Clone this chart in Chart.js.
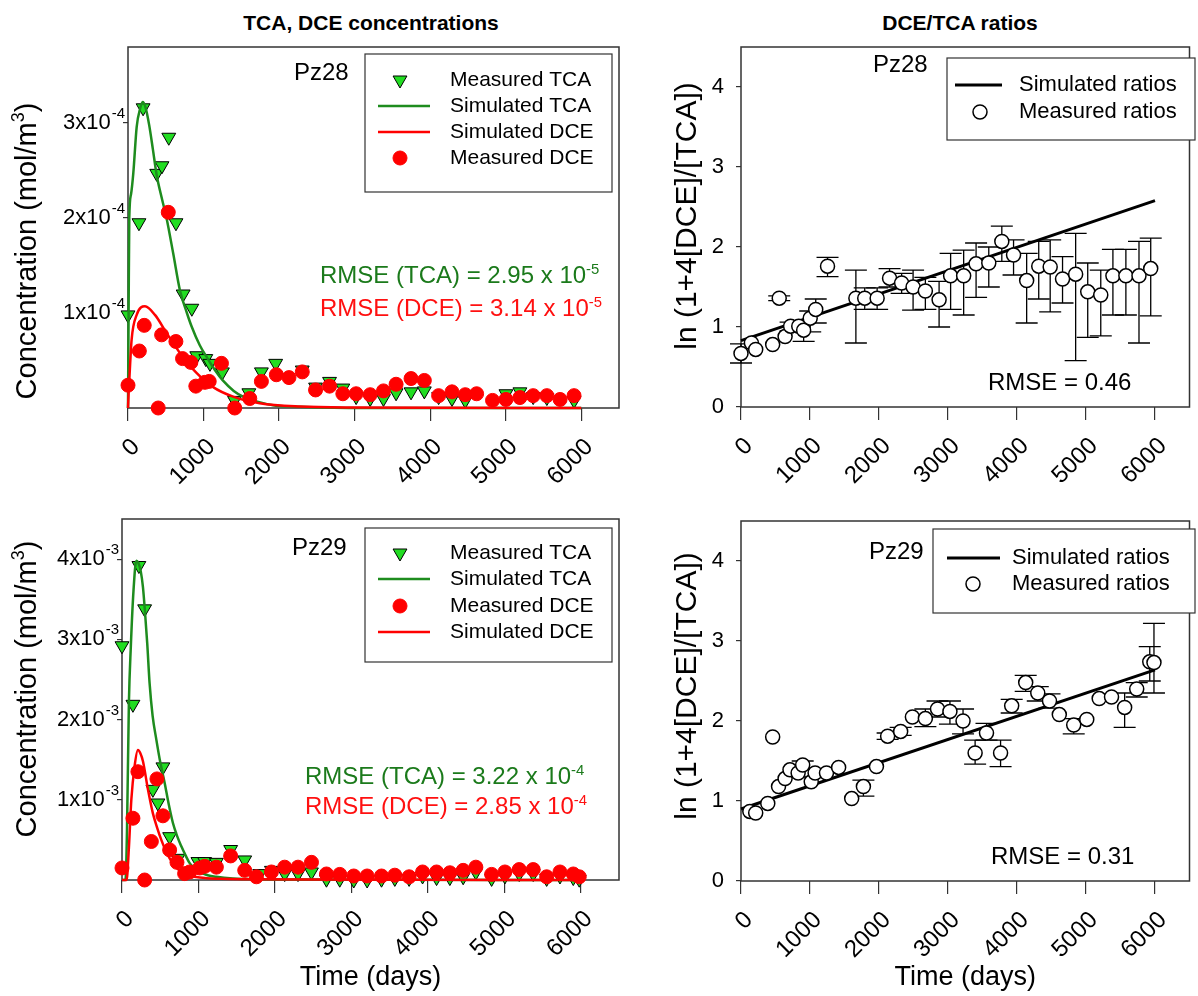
<!DOCTYPE html>
<html>
<head>
<meta charset="utf-8">
<script src="https://cdn.jsdelivr.net/npm/chart.js@4.4.1/dist/chart.umd.min.js"></script>
<style>
  body { margin: 0; background: #fff; width: 1198px; height: 996px; position: relative; overflow: hidden;
         font-family: "Liberation Sans", Arial, sans-serif; }
  canvas { position: absolute; }
  .t { position: absolute; white-space: nowrap; line-height: 1; color: #000; font-size: 24px; }
  .t sup { font-size: 0.62em; vertical-align: 0.62em; line-height: 0; }
  .head { font-weight: bold; font-size: 21px; transform: translateX(-50%); }
  .ytitle { transform: translate(-50%, -50%) rotate(-90deg); }
  .green { color: #1b7a1b; }
  .red { color: #ff1010; }
</style>
</head>
<body>
<div class="t head" style="left:371px;top:12px">TCA, DCE concentrations</div>
<div class="t head" style="left:960px;top:12px">DCE/TCA ratios</div>

<canvas id="conc28" width="640" height="470" style="left:0;top:30px"></canvas>
<canvas id="ratio28" width="548" height="470" style="left:650px;top:30px"></canvas>
<canvas id="conc29" width="640" height="491" style="left:0;top:505px"></canvas>
<canvas id="ratio29" width="548" height="491" style="left:650px;top:505px"></canvas>

<div class="t ytitle" style="left:26px;top:251px;font-size:29px">Concentration (mol/m<sup>3</sup>)</div>
<div class="t ytitle" style="left:26px;top:689px;font-size:29px">Concentration (mol/m<sup>3</sup>)</div>
<div class="t ytitle" style="left:686px;top:216px;font-size:30px">ln (1+4[DCE]/[TCA])</div>
<div class="t ytitle" style="left:686px;top:686px;font-size:30px">ln (1+4[DCE]/[TCA])</div>

<div class="t" style="left:294px;top:60px">Pz28</div>
<div class="t green" style="left:320px;top:263px">RMSE (TCA) = 2.95 x 10<sup>-5</sup></div>
<div class="t red" style="left:320px;top:296px">RMSE (DCE) = 3.14 x 10<sup>-5</sup></div>

<div class="t" style="left:292px;top:535px">Pz29</div>
<div class="t green" style="left:305px;top:764px">RMSE (TCA) = 3.22 x 10<sup>-4</sup></div>
<div class="t red" style="left:305px;top:794px">RMSE (DCE) = 2.85 x 10<sup>-4</sup></div>

<div class="t" style="left:873px;top:52px">Pz28</div>
<div class="t" style="left:988px;top:370px">RMSE = 0.46</div>

<div class="t" style="left:869px;top:539px">Pz29</div>
<div class="t" style="left:991px;top:844px">RMSE = 0.31</div>

<script>
const FONT = '"Liberation Sans", Arial, sans-serif';
const TRI_GREEN = '#22dd22';
const LINE_GREEN = '#1e8c1e';
const RED = '#ff0000';

// x axis (days), shared by all panels
const dayTicks = [0, 1000, 2000, 3000, 4000, 5000, 6000];

// ---- Pz28 concentrations (mol/m3)
const tcaDays28 = [0, 145, 200, 380, 450, 540, 635, 730, 845, 910, 1030, 1085, 1250, 1410, 1600, 1766, 1955, 2307, 2483, 2668,
  2844, 3020, 3206, 3382, 3549, 3747, 3923, 4112, 4289, 4465, 5003, 5188, 5364, 5545, 5905];
const tcaMeas28 = [0.98e-4, 1.95e-4, 3.16e-4, 2.47e-4, 2.55e-4, 2.85e-4, 1.95e-4, 1.20e-4, 1.05e-4, 0.55e-4,
  0.52e-4, 0.47e-4, 0.38e-4, 0.08e-4, 0.16e-4, 0.38e-4, 0.47e-4, 0.40e-4, 0.22e-4, 0.28e-4,
  0.21e-4, 0.12e-4, 0.10e-4, 0.10e-4, 0.16e-4, 0.17e-4, 0.18e-4, 0.12e-4, 0.10e-4, 0.08e-4,
  0.15e-4, 0.17e-4, 0.12e-4, 0.11e-4, 0.08e-4];
const dceDays28 = [0, 150, 215, 400, 445, 533, 634, 722, 832, 898, 1017, 1075, 1237, 1413, 1612, 1766, 1964, 2131, 2307, 2483,
  2668, 2844, 3020, 3206, 3382, 3549, 3747, 3923, 4112, 4289, 4465, 4615, 4826, 5003, 5188, 5364, 5545, 5720, 5905];
const dceMeas28 = [0.24e-4, 0.60e-4, 0.87e-4, 0, 0.77e-4, 2.06e-4, 0.70e-4, 0.52e-4, 0.48e-4, 0.23e-4,
  0.27e-4, 0.28e-4, 0.47e-4, 0, 0.10e-4, 0.28e-4, 0.35e-4, 0.32e-4, 0.38e-4, 0.19e-4,
  0.23e-4, 0.15e-4, 0.15e-4, 0.14e-4, 0.18e-4, 0.25e-4, 0.31e-4, 0.29e-4, 0.13e-4, 0.17e-4,
  0.14e-4, 0.15e-4, 0.08e-4, 0.09e-4, 0.11e-4, 0.13e-4, 0.13e-4, 0.09e-4, 0.13e-4];
const simTcaDays28 = [0, 8, 17, 40, 70, 115, 160, 194, 230, 280, 330, 380, 450, 510, 600, 687, 780, 841, 950, 1039,
  1150, 1255, 1400, 1523, 1700, 1920, 2200, 2600, 3000, 6000];
const simTca28 = [0, 1.0e-4, 2.0e-4, 2.25e-4, 2.47e-4, 2.96e-4, 3.15e-4, 3.22e-4, 3.17e-4, 2.98e-4,
  2.72e-4, 2.45e-4, 2.2e-4, 2.0e-4, 1.62e-4, 1.24e-4, 1.0e-4, 0.86e-4, 0.66e-4, 0.54e-4,
  0.40e-4, 0.29e-4, 0.18e-4, 0.12e-4, 0.07e-4, 0.03e-4, 0.015e-4, 0.005e-4, 0, 0];
const simDceDays28 = [0, 8, 17, 48, 115, 225, 357, 510, 687, 907, 1127, 1391, 1744, 2272, 3000, 6000];
const simDce28 = [0, 0.15e-4, 0.29e-4, 0.72e-4, 0.98e-4, 1.07e-4, 0.98e-4, 0.79e-4, 0.58e-4, 0.37e-4,
  0.22e-4, 0.12e-4, 0.05e-4, 0.015e-4, 0.005e-4, 0];
const concTicks28 = [1e-4, 2e-4, 3e-4];
const concBase28 = ['1x10', '2x10', '3x10'];
const concExp28 = ['-4', '-4', '-4'];

// ---- Pz29 concentrations (mol/m3)
const tcaDays29 = [0, 143, 221, 296, 404, 470, 535, 623, 732, 993, 1081, 1234, 1421, 1605, 1801, 1954, 2128, 2302, 2478, 2674,
  2848, 3031, 3206, 3394, 3568, 3755, 3931, 4114, 4288, 4462, 4628, 4834, 5008, 5195, 5378, 5554, 5728, 5902, 5980];
const tcaMeas29 = [2.92e-3, 2.19e-3, 3.92e-3, 3.38e-3, 1.13e-3, 0.96e-3, 1.41e-3, 0.54e-3, 0.27e-3, 0.23e-3,
  0.23e-3, 0.22e-3, 0.38e-3, 0.25e-3, 0.08e-3, 0.12e-3, 0.08e-3, 0.08e-3, 0.10e-3, 0.01e-3,
  0.01e-3, 0, 0, 0.01e-3, 0.02e-3, 0.02e-3, 0.05e-3, 0.03e-3, 0.03e-3, 0.04e-3,
  0.10e-3, 0.02e-3, 0.05e-3, 0.08e-3, 0.08e-3, 0.02e-3, 0.05e-3, 0.03e-3, 0.01e-3];
const dceDays29 = [0, 143, 208, 296, 384, 457, 535, 623, 719, 819, 885, 1016, 1081, 1234, 1421, 1605, 1758, 1954, 2128, 2302,
  2478, 2674, 2848, 3031, 3206, 3394, 3568, 3755, 3931, 4114, 4288, 4462, 4628, 4834, 5008, 5195, 5378, 5554, 5728, 5902, 5980];
const dceMeas29 = [0.15e-3, 0.77e-3, 1.35e-3, 0, 0.48e-3, 1.26e-3, 0.80e-3, 0.375e-3, 0.22e-3, 0.08e-3,
  0.10e-3, 0.15e-3, 0.17e-3, 0.16e-3, 0.30e-3, 0.12e-3, 0.04e-3, 0.10e-3, 0.16e-3, 0.16e-3,
  0.22e-3, 0.075e-3, 0.07e-3, 0.05e-3, 0.05e-3, 0.05e-3, 0.06e-3, 0.04e-3, 0.10e-3, 0.10e-3,
  0.09e-3, 0.12e-3, 0.16e-3, 0.07e-3, 0.10e-3, 0.13e-3, 0.13e-3, 0.04e-3, 0.10e-3, 0.075e-3, 0.04e-3];
const simTcaDays29 = [0, 45, 65, 90, 115, 150, 187, 215, 245, 274, 300, 330, 361, 400, 449, 500, 558, 610, 666, 720,
  776, 830, 885, 950, 1016, 1120, 1234, 1450, 1800, 2500, 6000];
const simTca29 = [0, 0, 0.6e-3, 2.2e-3, 2.9e-3, 3.6e-3, 3.98e-3, 3.95e-3, 3.85e-3, 3.65e-3,
  3.35e-3, 2.95e-3, 2.45e-3, 2.05e-3, 1.75e-3, 1.47e-3, 1.21e-3, 0.95e-3, 0.71e-3, 0.55e-3,
  0.42e-3, 0.31e-3, 0.21e-3, 0.15e-3, 0.10e-3, 0.06e-3, 0.04e-3, 0.02e-3, 0.01e-3, 0.005e-3, 0];
const simDceDays29 = [0, 60, 90, 122, 165, 208, 240, 274, 339, 404, 460, 514, 570, 623, 700, 776, 880, 1016, 1300, 1700, 2500, 6000];
const simDce29 = [0, 0, 0.4e-3, 1.0e-3, 1.42e-3, 1.62e-3, 1.58e-3, 1.48e-3, 1.13e-3, 0.83e-3,
  0.65e-3, 0.50e-3, 0.37e-3, 0.27e-3, 0.17e-3, 0.10e-3, 0.06e-3, 0.03e-3, 0.015e-3, 0.01e-3, 0.005e-3, 0];
const concTicks29 = [1e-3, 2e-3, 3e-3, 4e-3];
const concBase29 = ['1x10', '2x10', '3x10', '4x10'];
const concExp29 = ['-3', '-3', '-3', '-3'];

// ---- ratios ln(1+4[DCE]/[TCA])
const ratioTicks = [0, 1, 2, 3, 4];
const ratioLabels = ['0', '1', '2', '3', '4'];

const ratioDays28 = [0, 151, 213, 459, 554, 639, 719, 837, 908, 1003, 1083, 1254, 1665, 1793, 1973, 2153, 2328, 2494, 2672, 2871,
  3038, 3227, 3407, 3591, 3780, 3950, 4140, 4315, 4481, 4660, 4850, 5025, 5214, 5390, 5578, 5768, 5938];
const ratio28 = [0.67, 0.80, 0.72, 0.78, 1.36, 0.88, 1.01, 1.01, 0.96, 1.11, 1.22, 1.76, 1.36, 1.36, 1.36, 1.61, 1.55, 1.50, 1.45, 1.34,
  1.64, 1.64, 1.79, 1.80, 2.07, 1.90, 1.58, 1.76, 1.75, 1.60, 1.66, 1.44, 1.40, 1.64, 1.64, 1.64, 1.73];
const ratioLow28 = [0.55, null, null, null, 1.33, null, 0.95, null, 0.82, 0.94, 1.05, 1.63, 0.80, 1.22, 1.22, 1.50, 1.42, 1.21, 1.22, 1.00,
  1.22, 1.15, 1.37, 1.50, 1.82, 1.65, 1.05, 1.35, 1.19, 1.30, 0.58, 0.87, 0.89, 1.15, 1.15, 0.80, 1.14];
const ratioHigh28 = [0.79, null, null, null, 1.39, null, 1.06, null, 1.05, 1.20, 1.35, 1.87, 1.71, 1.49, 1.49, 1.73, 1.67, 1.71, 1.62, 1.57,
  1.92, 1.96, 2.05, 2.00, 2.26, 2.09, 1.92, 2.07, 2.09, 1.88, 2.17, 1.80, 1.71, 1.97, 1.97, 2.07, 2.11];
const simRatioDays28 = [0, 6000];
const simRatio28 = [0.83, 2.58];

const ratioDays29 = [128, 213, 388, 459, 544, 639, 710, 828, 894, 1018, 1074, 1239, 1415, 1604, 1774, 1963, 2125, 2314, 2484, 2672,
  2848, 3028, 3218, 3393, 3558, 3762, 3923, 4126, 4301, 4471, 4613, 4822, 5011, 5191, 5370, 5560, 5735, 5924, 5985];
const ratio29 = [0.87, 0.85, 0.97, 1.80, 1.18, 1.28, 1.39, 1.35, 1.45, 1.24, 1.35, 1.35, 1.42, 1.03, 1.18, 1.43, 1.81, 1.87, 2.05, 2.03,
  2.15, 2.12, 2.00, 1.60, 1.85, 1.60, 2.19, 2.48, 2.35, 2.25, 2.08, 1.95, 2.02, 2.28, 2.30, 2.17, 2.40, 2.74, 2.73];
const ratioLow29 = [null, null, null, null, null, null, null, 1.30, 1.40, null, null, null, null, null, 1.06, null, 1.77, 1.82, null, 1.93,
  2.05, 1.96, 1.84, 1.46, 1.76, 1.43, 2.10, 2.37, 2.25, 2.16, null, 1.84, null, null, null, 1.92, 2.30, 2.50, 2.35];
const ratioHigh29 = [null, null, null, null, null, null, null, 1.40, 1.50, null, null, null, null, null, 1.26, null, 1.85, 1.92, null, 2.15,
  2.25, 2.25, 2.15, 1.76, 1.97, 1.76, 2.27, 2.57, 2.43, 2.34, null, 2.03, null, null, null, 2.35, 2.48, 2.93, 3.22];
const simRatioDays29 = [0, 6000];
const simRatio29 = [0.90, 2.64];

function pts(xs, ys, lo, hi) {
  return xs.map((x, i) => {
    const p = { x: x, y: ys[i] };
    if (lo && lo[i] != null) { p.lo = lo[i]; p.hi = hi[i]; }
    return p;
  });
}

function triangles(label, xs, ys) {
  return { label, data: pts(xs, ys), pointStyle: 'triangle', pointRotation: 180, pointRadius: 8,
    pointBackgroundColor: TRI_GREEN, pointBorderColor: '#000', pointBorderWidth: 1, order: 3, clip: false };
}
function dots(label, xs, ys) {
  return { label, data: pts(xs, ys), pointStyle: 'circle', pointRadius: 7,
    pointBackgroundColor: RED, pointBorderColor: RED, pointBorderWidth: 1, order: 0, clip: false };
}
function curve(label, xs, ys, color, width, order) {
  return { label, data: pts(xs, ys), showLine: true, pointRadius: 0, borderColor: color, borderWidth: width,
    cubicInterpolationMode: 'monotone', fill: false, order: order, clip: false };
}
function rings(label, xs, ys, lo, hi) {
  return { label, data: pts(xs, ys, lo, hi), pointStyle: 'circle', pointRadius: 7, errorBars: true,
    pointBackgroundColor: '#fff', pointBorderColor: '#000', pointBorderWidth: 1.5, order: 0, clip: false };
}

// box around plot area
const frame = {
  id: 'frame',
  beforeDatasetsDraw(chart) {
    const a = chart.chartArea, ctx = chart.ctx;
    ctx.save();
    ctx.strokeStyle = '#333';
    ctx.lineWidth = 1.5;
    ctx.strokeRect(a.left, a.top, a.right - a.left, a.bottom - a.top);
    ctx.restore();
  }
};

// vertical error bars with caps, drawn under the markers
const errorBars = {
  id: 'errorBars',
  beforeDatasetsDraw(chart) {
    const ctx = chart.ctx, xs = chart.scales.x, ys = chart.scales.y;
    const cap = 11;
    ctx.save();
    ctx.strokeStyle = '#000';
    ctx.lineWidth = 1.3;
    chart.data.datasets.forEach(ds => {
      if (!ds.errorBars) return;
      ds.data.forEach(p => {
        if (p.lo == null) return;
        const px = xs.getPixelForValue(p.x);
        const yl = ys.getPixelForValue(p.lo);
        const yh = ys.getPixelForValue(p.hi);
        ctx.beginPath();
        ctx.moveTo(px, yl); ctx.lineTo(px, yh);
        ctx.moveTo(px - cap, yl); ctx.lineTo(px + cap, yl);
        ctx.moveTo(px - cap, yh); ctx.lineTo(px + cap, yh);
        ctx.stroke();
      });
    });
    ctx.restore();
  }
};

// y tick labels of the form "3x10" with a raised exponent
const expTicks = {
  id: 'expTicks',
  afterDraw(chart, args, o) {
    if (!o || !o.base) return;
    const s = chart.scales.y, ctx = chart.ctx;
    ctx.save();
    ctx.fillStyle = '#000';
    ctx.textBaseline = 'middle';
    ctx.textAlign = 'right';
    s.ticks.forEach((t, i) => {
      const y = s.getPixelForValue(t.value);
      const right = s.right - 3;
      ctx.font = '15px ' + FONT;
      const w = ctx.measureText(o.exp[i]).width;
      ctx.fillText(o.exp[i], right, y - 9);
      ctx.font = '22px ' + FONT;
      ctx.fillText(o.base[i], right - w - 1, y);
    });
    ctx.restore();
  }
};

// boxed legend inside the plot
const boxLegend = {
  id: 'boxLegend',
  afterDatasetsDraw(chart, args, o) {
    if (!o || !o.items) return;
    const ctx = chart.ctx;
    ctx.save();
    ctx.fillStyle = '#fff';
    ctx.fillRect(o.x, o.y, o.w, o.h);
    ctx.strokeStyle = '#333';
    ctx.lineWidth = 1.2;
    ctx.strokeRect(o.x, o.y, o.w, o.h);
    o.items.forEach((dsIndex, i) => {
      const ds = chart.data.datasets[dsIndex];
      const y = o.rows[i];
      if (ds.showLine) {
        ctx.strokeStyle = ds.borderColor;
        ctx.lineWidth = ds.borderWidth;
        ctx.beginPath();
        ctx.moveTo(o.line[0], y); ctx.lineTo(o.line[1], y);
        ctx.stroke();
      } else {
        ctx.fillStyle = ds.pointBackgroundColor;
        ctx.strokeStyle = ds.pointBorderColor;
        ctx.lineWidth = ds.pointBorderWidth;
        Chart.helpers.drawPoint(ctx, { pointStyle: ds.pointStyle, rotation: ds.pointRotation || 0,
          radius: ds.pointRadius, borderWidth: ds.pointBorderWidth }, o.sym, y);
      }
      ctx.fillStyle = '#000';
      ctx.font = o.fontSize + 'px ' + FONT;
      ctx.textBaseline = 'middle';
      ctx.textAlign = 'left';
      ctx.fillText(ds.label, o.text, y);
    });
    ctx.restore();
  }
};

Chart.register(frame, errorBars, expTicks, boxLegend);

function xAxis(height, showTitle) {
  return {
    type: 'linear', min: 0, max: 6500,
    afterBuildTicks: s => { s.ticks = dayTicks.map(v => ({ value: v })); },
    afterFit: s => { s.height = height; s.paddingLeft = 0; s.paddingRight = 0; },
    border: { display: false },
    grid: { drawOnChartArea: false, drawTicks: true, tickLength: 13, color: '#333', lineWidth: 1.2 },
    ticks: { minRotation: 45, maxRotation: 45, autoSkip: false, padding: 12, labelOffset: 8,
      color: '#000', font: { family: FONT, size: 24 }, callback: v => String(v) },
    title: { display: showTitle, text: 'Time (days)', color: '#000',
      font: { family: FONT, size: 27 }, padding: { top: 0, bottom: 2 } }
  };
}

function yAxis(max, ticks, labels, width, pad) {
  return {
    type: 'linear', min: 0, max: max,
    afterBuildTicks: s => { s.ticks = ticks.map(v => ({ value: v })); },
    afterFit: s => { s.width = width; s.paddingTop = 0; s.paddingBottom = 0; },
    border: { display: false },
    grid: { drawOnChartArea: false, drawTicks: true, tickLength: 5, color: '#333', lineWidth: 1.2 },
    ticks: { display: labels !== null, padding: pad, color: '#000', font: { family: FONT, size: 22 },
      callback: (v, i) => (labels ? labels[i] : '') },
    title: { display: false }
  };
}

function makeChart(id, datasets, x, y, padding, legend, exp) {
  return new Chart(document.getElementById(id), {
    type: 'scatter',
    data: { datasets: datasets },
    options: {
      responsive: false,
      animation: false,
      events: [],
      layout: { padding: padding },
      scales: { x: x, y: y },
      plugins: { legend: { display: false }, tooltip: { enabled: false }, boxLegend: legend, expTicks: exp || {} }
    }
  });
}

// Pz28 concentrations
makeChart('conc28', [
  triangles('Measured TCA', tcaDays28, tcaMeas28),
  curve('Simulated TCA', simTcaDays28, simTca28, LINE_GREEN, 2.5, 2),
  curve('Simulated DCE', simDceDays28, simDce28, RED, 2.5, 1),
  dots('Measured DCE', dceDays28, dceMeas28)
], xAxis(92, false), yAxis(3.8e-4, concTicks28, null, 122, 0),
  { left: 6, top: 17, right: 21, bottom: 0 },
  { x: 365, y: 24, w: 247, h: 138, rows: [50, 76, 102, 128], line: [378, 430], sym: 400, text: 450, fontSize: 21,
    items: [0, 1, 2, 3] },
  { base: concBase28, exp: concExp28 });

// Pz28 ratios
makeChart('ratio28', [
  rings('Measured ratios', ratioDays28, ratio28, ratioLow28, ratioHigh28),
  curve('Simulated ratios', simRatioDays28, simRatio28, '#000', 3, 1)
], xAxis(93, false), yAxis(4.5, ratioTicks, ratioLabels, 75, 12),
  { left: 16, top: 17, right: 2, bottom: 0 },
  { x: 297, y: 28, w: 248, h: 82, rows: [55, 82], line: [305, 352], sym: 330, text: 369, fontSize: 22,
    items: [1, 0] });

// Pz29 concentrations
makeChart('conc29', [
  triangles('Measured TCA', tcaDays29, tcaMeas29),
  curve('Simulated TCA', simTcaDays29, simTca29, LINE_GREEN, 2.5, 2),
  curve('Simulated DCE', simDceDays29, simDce29, RED, 2.5, 1),
  dots('Measured DCE', dceDays29, dceMeas29)
], xAxis(116, true), yAxis(4.5e-3, concTicks29, null, 116, 0),
  { left: 6, top: 14, right: 21, bottom: 0 },
  { x: 365, y: 23, w: 247, h: 134, rows: [48, 74, 101, 127], line: [378, 430], sym: 400, text: 450, fontSize: 21,
    items: [0, 1, 3, 2] },
  { base: concBase29, exp: concExp29 });

// Pz29 ratios
makeChart('ratio29', [
  rings('Measured ratios', ratioDays29, ratio29, ratioLow29, ratioHigh29),
  curve('Simulated ratios', simRatioDays29, simRatio29, '#000', 3, 1)
], xAxis(115, true), yAxis(4.5, ratioTicks, ratioLabels, 75, 12),
  { left: 16, top: 16, right: 2, bottom: 0 },
  { x: 283, y: 24, w: 262, h: 84, rows: [53, 79], line: [297, 350], sym: 323, text: 362, fontSize: 22,
    items: [1, 0] });
</script>
</body>
</html>
